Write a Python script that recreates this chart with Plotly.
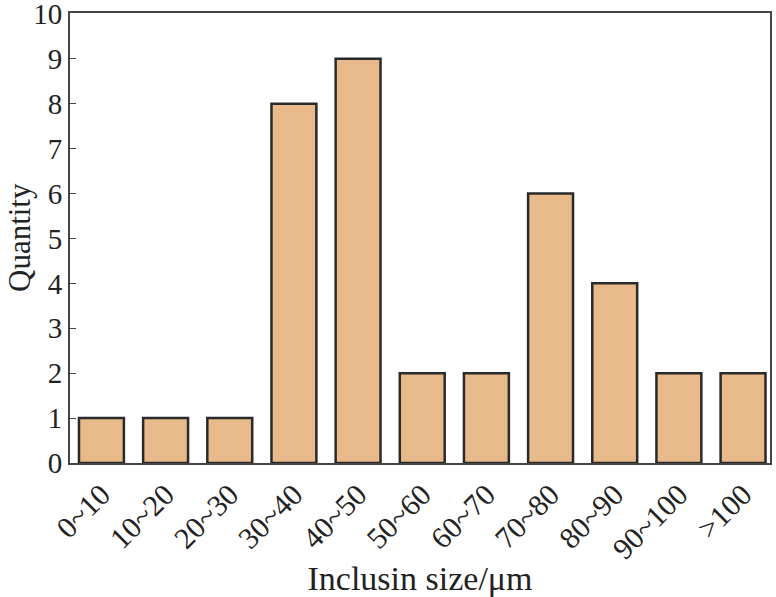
import plotly.graph_objects as go

categories = ["0~10", "10~20", "20~30", "30~40", "40~50", "50~60",
              "60~70", "70~80", "80~90", "90~100", ">100"]
quantity = [1, 1, 1, 8, 9, 2, 2, 6, 4, 2, 2]

fig = go.Figure()
fig.add_trace(go.Bar(x=categories, y=quantity,
                     marker=dict(color="#E8B98A", line=dict(color="#2a2a2a", width=2.5)),
                     width=0.70))

font = "Liberation Serif, Times New Roman, serif"
fig.update_layout(
    width=776, height=597,
    paper_bgcolor="white", plot_bgcolor="white",
    margin=dict(l=70, r=6, t=13, b=134),
    font=dict(family=font, size=30, color="#222"),
    showlegend=False,
)
fig.update_xaxes(
    showline=True, linecolor="#444", linewidth=2, mirror=True,
    ticks="", tickangle=-45, tickfont=dict(size=30), automargin=False,
    title=dict(text="Inclusin size/μm", font=dict(size=34), standoff=8),
    range=[-0.49, 10.42],
)
fig.update_yaxes(
    showline=True, linecolor="#444", linewidth=2, mirror=True,
    range=[0, 10.02], tickvals=list(range(11)), ticks="inside", ticklen=6,
    tickcolor="#444", showgrid=False, zeroline=False, automargin=False,
    ticklabeloverflow="allow", tickfont=dict(size=29),
)
fig.add_annotation(text="Quantity", xref="paper", yref="paper", x=0, y=0.5,
                   xanchor="center", yanchor="middle",
                   xshift=-51, textangle=-90, showarrow=False,
                   font=dict(size=31, color="#222"))

# drop the page's default body margin so the figure fills the window
fig.write_html("out.html", config={"displayModeBar": False},
               post_script="document.body.style.margin='0';")
